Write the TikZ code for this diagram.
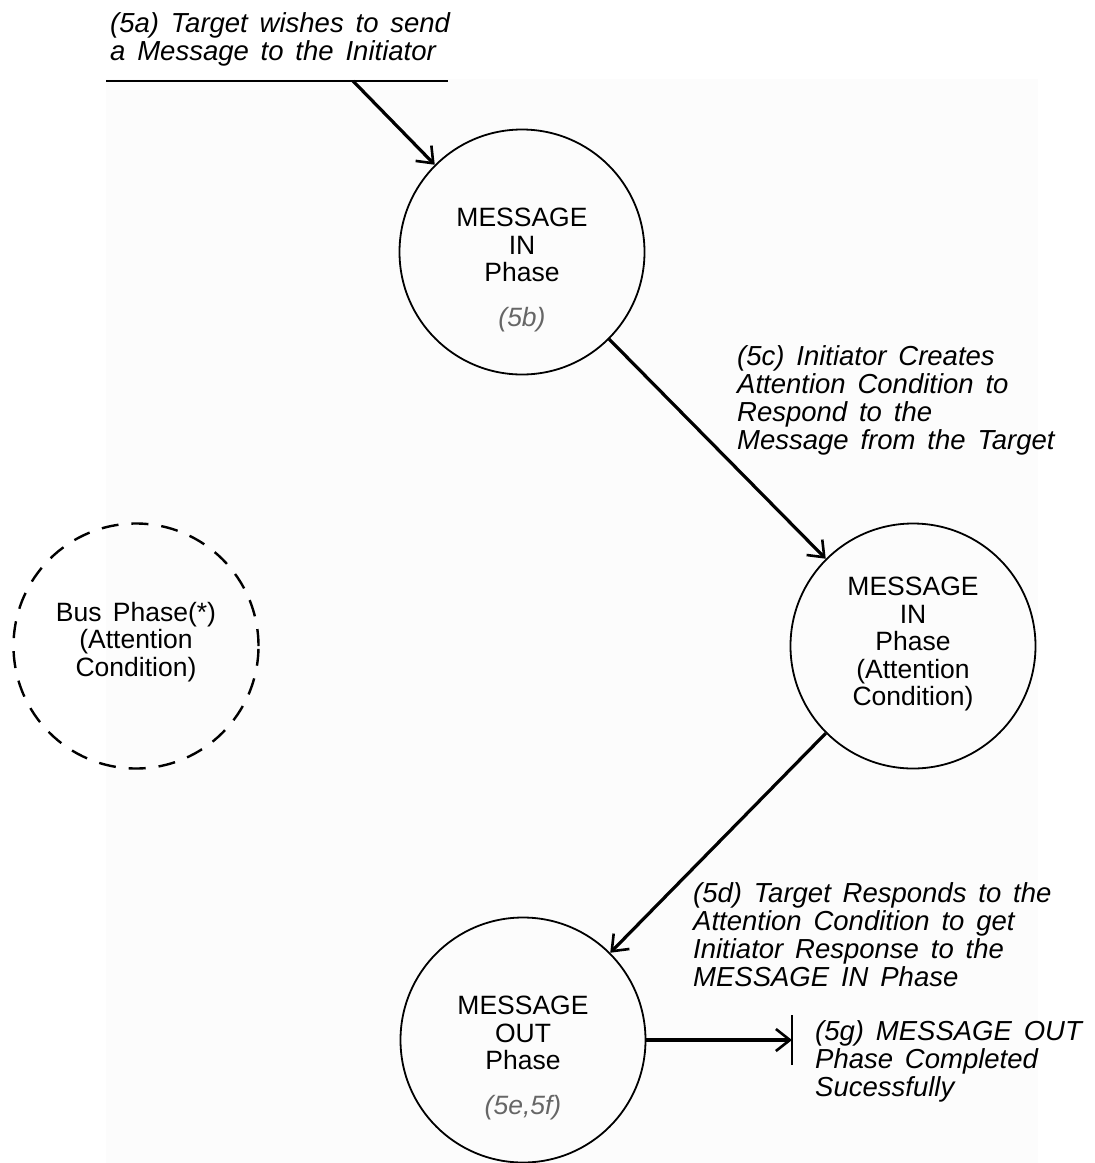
\documentclass[tikz,border=0pt]{standalone}
\usepackage{fontspec}
\setmainfont{Liberation Sans}[WordSpace=1.55]
\usetikzlibrary{arrows.meta}
\begin{document}
\begin{tikzpicture}[x=1pt,y=-1pt,
  phase/.style={circle,draw,line width=1.8pt,minimum size=245pt,inner sep=0pt},
  optphase/.style={phase,line width=2.4pt,dash pattern=on 17pt off 13pt},
  ctext/.style={align=center,inner sep=0pt,font=\fontsize{26.5}{27.5}\selectfont},
  note/.style={align=left,inner sep=0pt,anchor=north west,font=\fontsize{27.5}{28}\selectfont\itshape},
  flow/.style={line width=3.2pt,-{Straight Barb[length=14pt,width=22pt,line width=2.6pt]}},
  stepref/.style={font=\itshape,text=black!60}]
\useasboundingbox (0,0) rectangle (1095,1163);
% faint paper tone behind the chart
\fill[black!1] (106,79) rectangle (1038,1163);

% states
\node[phase] (c1) at (522,252) {};
\node[phase] (c2) at (913,646) {};
\node[phase] (c3) at (523,1040) {};
\node[optphase] (c0) at (136,646) {};

\node[ctext] (t1) at (522,270) {MESSAGE\\IN\\Phase\\[17pt]{\itshape\color{black!60}(5b)}};
\node[ctext] (t2) at (913,644) {MESSAGE\\IN\\Phase\\(Attention\\Condition)};
\node[ctext] (t3) at (523,1058) {MESSAGE\\OUT\\Phase\\[17pt]{\itshape\color{black!60}(5e,5f)}};
\node[ctext] (t0) at (136,642) {Bus Phase(*)\\(Attention\\Condition)};

% entry line and exit bar
\coordinate (lineL) at (106,81);
\coordinate (lineR) at (448,81);
\coordinate (src) at (353,81);
\draw[line width=2pt] (lineL) -- (lineR);
\coordinate (done) at (792,1040);
\draw[line width=2pt] ([yshift=-25pt]done) -- ([yshift=25pt]done);

% transitions
\draw[flow] (src) -- (c1.135);
\draw[flow] (c1.-45) -- (c2.135);
\draw[flow] (c2.225) -- (c3.45);
\draw[flow] (c3.east) -- (done);

% step descriptions
\node[note] (n5a) at (110,12) {(5a) Target wishes to send\\a Message to the Initiator};
\node[note] (n5c) at (737,345) {(5c) Initiator Creates\\Attention Condition to\\Respond to the\\Message from the Target};
\node[note] (n5d) at (693,882) {(5d) Target Responds to the\\Attention Condition to get\\Initiator Response to the\\MESSAGE IN Phase};
\node[note] (n5g) at (815,1020) {(5g) MESSAGE OUT\\Phase Completed\\Sucessfully};
\end{tikzpicture}
\end{document}
